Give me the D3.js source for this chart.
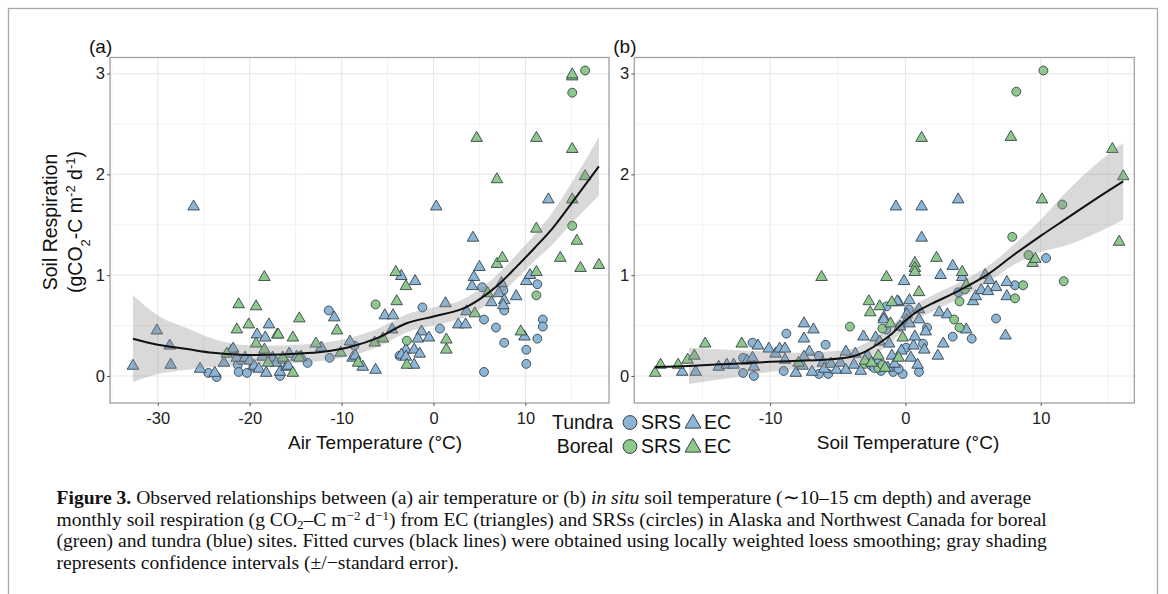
<!DOCTYPE html>
<html>
<head>
<meta charset="utf-8">
<script src="https://cdn.jsdelivr.net/npm/d3@7"></script>
<style>
  body { margin: 0; background: #fff; }
  svg { display: block; font-family: "Liberation Sans", Arial, sans-serif; }
</style>
</head>
<body>
<svg id="fig" width="1168" height="594"></svg>
<script>
// ---- data: [temperature °C, soil respiration gCO2-C m-2 d-1]
const respTicks = [0, 1, 2, 3];
const airTicks = [-30, -20, -10, 0, 10];
const soilTicks = [-10, 0, 10];

const airTundraSRS = [[-24.5,0.03],[-23.6,-0.01],[-21.3,0.11],[-21.2,0.04],[-21.0,0.16],[-20.3,0.03],[-19.6,0.09],
  [-16.7,0.00],[-13.7,0.13],[-11.4,0.65],[-11.3,0.18],[-8.6,0.30],[-3.7,0.20],[-1.2,0.68],[0.7,0.47],[5.3,0.88],
  [5.5,0.56],[5.5,0.04],[6.8,0.48],[7.6,0.85],[7.7,0.65],[7.7,0.33],[10.1,0.26],[10.1,0.12],[11.3,0.91],[11.9,0.56],
  [11.9,0.49],[11.3,0.37]];
const airTundraEC = [[-32.7,0.10],[-30.1,0.45],[-28.7,0.30],[-28.6,0.11],[-26.1,1.68],[-25.4,0.07],[-23.8,0.03],
  [-22.8,0.13],[-22.0,0.25],[-21.8,0.27],[-21.4,0.18],[-20.5,0.18],[-20.0,0.15],[-19.5,0.10],[-19.2,0.41],[-19.0,0.07],
  [-18.6,0.19],[-18.3,0.38],[-17.9,0.51],[-18.2,0.03],[-17.5,0.18],[-17.0,0.41],[-17.1,0.13],[-16.7,0.04],[-16.3,0.16],
  [-16.0,0.09],[-15.7,0.22],[-15.8,0.10],[-14.9,0.19],[-14.4,0.19],[-12.2,0.28],[-10.8,0.58],[-9.1,0.34],[-8.8,0.18],
  [-8.5,0.20],[-7.7,0.09],[-6.3,0.06],[-5.3,0.60],[-4.4,0.60],[-4.5,0.46],[-3.5,0.99],[-2.0,0.94],[-1.3,0.44],
  [-1.7,0.37],[-0.5,0.38],[-3.0,0.26],[-3.5,0.21],[-2.1,0.26],[-1.5,0.22],[-3.0,0.19],[-2.1,0.11],[0.3,1.68],
  [1.3,0.72],[2.7,0.51],[3.5,0.51],[3.6,0.64],[4.3,1.37],[5.0,1.08],[4.4,0.98],[4.2,0.89],[6.3,0.73],[7.1,0.82],
  [7.4,0.92],[7.7,0.75],[7.6,0.70],[9.0,0.79],[9.9,0.39],[10.1,0.94],[10.5,1.00],[12.5,1.75]];
const airBorealSRS = [[-6.3,0.71],[-2.9,0.35],[11.2,0.80],[15.1,2.81],[16.5,3.03],[15.1,1.49]];
const airBorealEC = [[-22.5,0.22],[-21.4,0.46],[-21.2,0.71],[-20.1,0.51],[-19.3,0.69],[-19.3,0.32],[-18.4,0.98],
  [-18.4,0.26],[-18.0,0.13],[-16.9,0.41],[-16.4,0.18],[-15.3,0.03],[-15.3,0.38],[-14.6,0.57],[-14.6,0.18],[-12.8,0.32],
  [-10.5,0.45],[-10.1,0.23],[-8.2,0.13],[-6.4,0.33],[-5.5,0.37],[-4.1,1.03],[-4.0,0.74],[-3.0,0.89],[-2.9,0.11],
  [1.4,0.36],[1.4,0.26],[4.5,0.62],[4.7,2.36],[5.9,0.82],[6.9,1.95],[6.9,1.11],[7.5,1.17],[9.5,0.44],[11.2,1.03],
  [11.2,1.46],[11.2,2.36],[13.8,1.17],[15.1,2.97],[15.1,2.99],[15.1,2.25],[15.1,1.75],[15.6,1.34],[16.0,1.07],
  [16.5,1.98],[18.0,1.10]];

// loess fit and its standard-error half width
const airFitX = [-32.7,-30,-27,-24,-21,-18,-15,-12,-9,-6,-3,0,3,5,7,9,11,13,15,18];
const airFitY = [0.37,0.31,0.27,0.23,0.21,0.21,0.22,0.24,0.29,0.38,0.52,0.59,0.66,0.76,0.90,1.08,1.27,1.47,1.71,2.08];
const airFitSE = [0.43,0.29,0.21,0.14,0.10,0.09,0.09,0.09,0.09,0.09,0.09,0.09,0.09,0.10,0.11,0.12,0.13,0.16,0.20,0.29];

const soilTundraSRS = [[-12.0,0.03],[-12.0,0.18],[-11.3,0.33],[-11.2,0.00],[-8.8,0.42],[-9.0,0.05],[-6.4,0.20],
  [-5.9,0.31],[-6.4,0.02],[-5.7,0.02],[-2.5,0.10],[-2.3,0.08],[-1.8,0.05],[-1.4,0.69],[-1.4,0.46],[-0.2,0.02],
  [0.25,0.66],[1.6,0.48],[1.3,0.32],[3.5,0.39],[4.9,0.37],[3.9,0.83],[6.7,0.57],[8.1,0.90],[10.4,1.17],[-0.9,0.04],
  [-0.5,0.07],[1.0,0.04],[0.05,0.28],[-0.4,0.49]];
const soilTundraEC = [[-16.5,0.04],[-15.5,0.04],[-13.8,0.09],[-13.2,0.11],[-12.7,0.11],[-11.7,0.15],[-10.9,0.30],
  [-11.3,0.18],[-11.2,0.09],[-10.1,0.27],[-9.6,0.22],[-9.3,0.27],[-8.9,0.27],[-8.9,0.16],[-8.1,0.03],[-7.6,0.10],
  [-7.5,0.37],[-7.5,0.52],[-6.8,0.46],[-7.1,0.24],[-7.5,0.19],[-6.9,0.04],[-6.1,0.13],[-6.0,0.07],[-5.5,0.12],
  [-5.1,0.06],[-4.8,0.13],[-4.4,0.24],[-4.4,0.06],[-3.7,0.22],[-3.8,0.11],[-3.3,0.05],[-3.1,0.39],[-2.8,0.20],
  [-2.0,0.15],[-1.6,0.58],[-1.6,0.56],[-1.3,0.08],[-1.0,0.20],[-0.8,0.12],[-0.5,0.73],[-0.6,0.74],[-0.7,1.68],
  [-0.3,0.25],[-0.1,0.94],[0.3,0.75],[0.1,0.61],[0.1,0.55],[0.4,0.18],[0.6,0.30],[1.0,0.66],[1.0,0.56],[-0.4,0.49],
  [-2.2,0.38],[0.7,0.39],[0.3,0.52],[1.5,0.44],[1.4,0.26],[-1.9,0.34],[-1.2,0.32],[0.9,0.11],[2.8,0.32],[2.4,0.20],
  [2.5,0.63],[3.1,0.61],[1.2,1.37],[1.2,1.68],[2.6,1.00],[3.5,1.09],[3.9,1.75],[4.2,0.98],[4.5,0.46],[5.0,0.74],
  [5.2,0.79],[5.6,0.85],[5.9,1.00],[6.2,0.95],[6.1,0.84],[6.7,0.88],[7.5,0.93],[7.5,0.79],[7.4,0.40]];
const soilBorealSRS = [[-4.1,0.49],[-3.0,0.12],[-2.0,0.08],[-1.7,0.47],[-1.7,0.11],[3.6,0.56],[4.0,0.48],
  [4.0,0.74],[4.4,0.86],[8.1,0.77],[8.7,0.90],[7.9,1.38],[8.2,2.82],[9.1,1.20],[10.2,3.03],[11.6,1.70],[11.7,0.94]];
const soilBorealEC = [[-18.5,0.03],[-18.1,0.11],[-16.8,0.11],[-16.1,0.16],[-15.6,0.20],[-14.8,0.32],[-12.1,0.32],
  [-7.9,0.13],[-6.2,0.98],[-3.0,0.15],[-2.7,0.74],[-2.6,0.63],[-2.5,0.13],[-2.0,0.20],[-1.9,0.69],[-1.5,0.08],
  [-1.4,0.98],[-1.0,0.73],[-1.1,0.52],[-0.5,0.18],[-0.2,0.38],[0.7,1.12],[0.7,1.07],[0.7,1.03],[1.0,0.83],[1.2,2.36],
  [2.3,1.17],[4.2,1.03],[4.5,0.90],[7.8,2.37],[9.4,1.12],[9.6,1.16],[10.1,1.75],[15.3,2.25],[15.8,1.33],[16.1,1.98]];

const soilFitX = [-18.5,-16,-13,-10,-8,-6,-4,-3,-2,-1,0,1,2,4,6,8,10,12,14,16.1];
const soilFitY = [0.09,0.10,0.12,0.14,0.15,0.16,0.19,0.24,0.32,0.42,0.55,0.65,0.72,0.85,1.00,1.20,1.39,1.57,1.75,1.93];
const soilFitSE = [0.20,0.18,0.14,0.10,0.08,0.08,0.08,0.08,0.08,0.08,0.08,0.08,0.08,0.08,0.08,0.10,0.16,0.27,0.34,0.38];
const soilBandFrom = -16;

const legendSites = ["Tundra", "Boreal"];
const legendMethods = ["SRS", "EC"];

// ---- drawing
const svg = d3.select("#fig");
const fill = { Tundra: "#8db5d6", Boreal: "#8ec88a" };
const edge = "#35434c";
const plotTop = 57.5, plotBottom = 403;
const yScale = d3.scaleLinear().domain([-0.268, 3.159]).range([plotBottom, plotTop]);

svg.append("rect").attr("x", 8.5).attr("y", 8.5).attr("width", 1149).attr("height", 700)
  .attr("fill", "none").attr("stroke", "#a8a8a8").attr("stroke-width", 1.3);

const tri = d3.symbol().type(d3.symbolTriangle).size(58)();
const circ = d3.symbol().type(d3.symbolCircle).size(62)();
const smooth = d3.curveCatmullRom.alpha(0.5);

function drawPanel(cfg) {
  const x = d3.scaleLinear().domain(cfg.xDomain).range([cfg.left, cfg.right]);
  const y = yScale;
  const g = svg.append("g");

  // grid
  const xMinor = d3.range(-40, 25, 5).filter(v => v > cfg.xDomain[0] && v < cfg.xDomain[1] && v % 10 !== 0);
  const yMinor = [0.5, 1.5, 2.5];
  g.append("g").selectAll("line").data(xMinor).join("line")
    .attr("x1", d => x(d)).attr("x2", d => x(d)).attr("y1", plotTop).attr("y2", plotBottom)
    .attr("stroke", "#f2f2f2").attr("stroke-width", 1);
  g.append("g").selectAll("line").data(yMinor).join("line")
    .attr("y1", d => y(d)).attr("y2", d => y(d)).attr("x1", cfg.left).attr("x2", cfg.right)
    .attr("stroke", "#f2f2f2").attr("stroke-width", 1);
  g.append("g").selectAll("line").data(cfg.ticks).join("line")
    .attr("x1", d => x(d)).attr("x2", d => x(d)).attr("y1", plotTop).attr("y2", plotBottom)
    .attr("stroke", "#e9e9e9").attr("stroke-width", 1.2);
  g.append("g").selectAll("line").data(respTicks).join("line")
    .attr("y1", d => y(d)).attr("y2", d => y(d)).attr("x1", cfg.left).attr("x2", cfg.right)
    .attr("stroke", "#e9e9e9").attr("stroke-width", 1.2);

  // points
  const groups = [
    [cfg.tundraSRS, "Tundra", circ], [cfg.tundraEC, "Tundra", tri],
    [cfg.borealSRS, "Boreal", circ], [cfg.borealEC, "Boreal", tri]
  ];
  groups.forEach(([pts, site, shape]) => {
    g.append("g").selectAll("path").data(pts).join("path")
      .attr("d", shape)
      .attr("transform", d => `translate(${x(d[0])},${y(d[1])})`)
      .attr("fill", fill[site]).attr("stroke", edge).attr("stroke-width", 0.9);
  });

  // loess ribbon + line
  const fit = cfg.fitX.map((v, i) => ({ x: v, y: cfg.fitY[i], se: cfg.fitSE[i] }));
  const band = fit.filter(d => d.x >= cfg.bandFrom);
  g.append("path").datum(band)
    .attr("d", d3.area().curve(d3.curveMonotoneX)
      .x(d => x(d.x)).y0(d => y(d.y - d.se)).y1(d => y(d.y + d.se)))
    .attr("fill", "#8c8c8c").attr("fill-opacity", 0.33);
  g.append("path").datum(fit)
    .attr("d", d3.line().curve(smooth).x(d => x(d.x)).y(d => y(d.y)))
    .attr("fill", "none").attr("stroke", "#111").attr("stroke-width", 2);

  // frame
  g.append("rect").attr("x", cfg.left).attr("y", plotTop)
    .attr("width", cfg.right - cfg.left).attr("height", plotBottom - plotTop)
    .attr("fill", "none").attr("stroke", "#a0a0a0").attr("stroke-width", 1.3);

  // axes
  const xAxis = d3.axisBottom(x).tickValues(cfg.ticks).tickSize(3).tickPadding(6).tickFormat(d => String(d));
  const ax = g.append("g").attr("transform", `translate(0,${plotBottom})`).call(xAxis);
  ax.select(".domain").remove();
  ax.selectAll("line").attr("stroke", "#555");
  ax.selectAll("text").attr("font-size", 16.5).attr("fill", "#222")
    .attr("font-family", "Liberation Sans, Arial, sans-serif");

  const yAxis = d3.axisLeft(y).tickValues(respTicks).tickSize(3).tickPadding(2).tickFormat(d => String(d));
  const ay = g.append("g").attr("transform", `translate(${cfg.left},0)`).call(yAxis);
  ay.select(".domain").remove();
  ay.selectAll("line").attr("stroke", "#555");
  ay.selectAll("text").attr("font-size", 16.5).attr("fill", "#222")
    .attr("font-family", "Liberation Sans, Arial, sans-serif");

  g.append("text").attr("x", cfg.left - 21).attr("y", 53).attr("font-size", 19).attr("fill", "#111")
    .text(cfg.tag);
  g.append("text").attr("x", cfg.titleX).attr("y", 449).attr("text-anchor", "middle")
    .attr("font-size", 19).attr("fill", "#111").text(cfg.title);
}

drawPanel({
  tag: "(a)", title: "Air Temperature (°C)", titleX: 375,
  left: 110, right: 609, xDomain: [-35.2, 19.1], ticks: airTicks,
  tundraSRS: airTundraSRS, tundraEC: airTundraEC, borealSRS: airBorealSRS, borealEC: airBorealEC,
  fitX: airFitX, fitY: airFitY, fitSE: airFitSE, bandFrom: -100
});
drawPanel({
  tag: "(b)", title: "Soil Temperature (°C)", titleX: 908,
  left: 634.3, right: 1134.3, xDomain: [-20.04, 16.92], ticks: soilTicks,
  tundraSRS: soilTundraSRS, tundraEC: soilTundraEC, borealSRS: soilBorealSRS, borealEC: soilBorealEC,
  fitX: soilFitX, fitY: soilFitY, fitSE: soilFitSE, bandFrom: soilBandFrom
});

// y-axis title
const yt = svg.append("g").attr("transform", "translate(0,222) rotate(-90)")
  .attr("font-size", 19.5).attr("fill", "#111").attr("text-anchor", "middle");
yt.append("text").attr("x", 0).attr("y", 57).text("Soil Respiration");
const yt2 = yt.append("text").attr("x", 0).attr("y", 82);
yt2.append("tspan").text("(gCO");
yt2.append("tspan").attr("baseline-shift", "sub").attr("font-size", 13).text("2");
yt2.append("tspan").text("-C m");
yt2.append("tspan").attr("baseline-shift", "super").attr("font-size", 13).text("-2");
yt2.append("tspan").text(" d");
yt2.append("tspan").attr("baseline-shift", "super").attr("font-size", 13).text("-1");
yt2.append("tspan").text(")");

// legend
const lg = svg.append("g").attr("font-size", 19.5).attr("fill", "#111");
legendSites.forEach((site, i) => {
  const by = 429 + i * 24;
  lg.append("text").attr("x", 613).attr("y", by).attr("text-anchor", "end").text(site);
  lg.append("path").attr("d", d3.symbol().type(d3.symbolCircle).size(150)())
    .attr("transform", `translate(630,${by - 6.5})`)
    .attr("fill", fill[site]).attr("stroke", edge).attr("stroke-width", 1);
  lg.append("text").attr("x", 641).attr("y", by).text(legendMethods[0]);
  lg.append("path").attr("d", d3.symbol().type(d3.symbolTriangle).size(110)())
    .attr("transform", `translate(693,${by - 5.5})`)
    .attr("fill", fill[site]).attr("stroke", edge).attr("stroke-width", 1);
  lg.append("text").attr("x", 704).attr("y", by).text(legendMethods[1]);
});

// caption
const cap = svg.append("g").attr("font-family", "Liberation Serif, 'Times New Roman', serif")
  .attr("font-size", 19.6).attr("fill", "#111");
const capLines = [
  [["Figure 3.", "b"], [" Observed relationships between (a) air temperature or (b) "], ["in situ", "i"],
   [" soil temperature (\u223c10\u201315 cm depth) and average"]],
  [["monthly soil respiration (g CO"], ["2", "sub"], ["\u2013C m"], ["\u22122", "sup"], [" d"], ["\u22121", "sup"],
   [") from EC (triangles) and SRSs (circles) in Alaska and Northwest Canada for boreal"]],
  [["(green) and tundra (blue) sites. Fitted curves (black lines) were obtained using locally weighted loess smoothing; gray shading"]],
  [["represents confidence intervals (\u00b1/\u2212standard error)."]]
];
capLines.forEach((segs, i) => {
  const t = cap.append("text").attr("x", 56.5).attr("y", 504 + i * 21.7);
  segs.forEach(([s, k]) => {
    const sp = t.append("tspan").text(s);
    if (k === "b") sp.attr("font-weight", "bold");
    if (k === "i") sp.attr("font-style", "italic");
    if (k === "sub") sp.attr("baseline-shift", "-3").attr("font-size", 13);
    if (k === "sup") sp.attr("baseline-shift", "6").attr("font-size", 13);
  });
});
</script>
</body>
</html>
